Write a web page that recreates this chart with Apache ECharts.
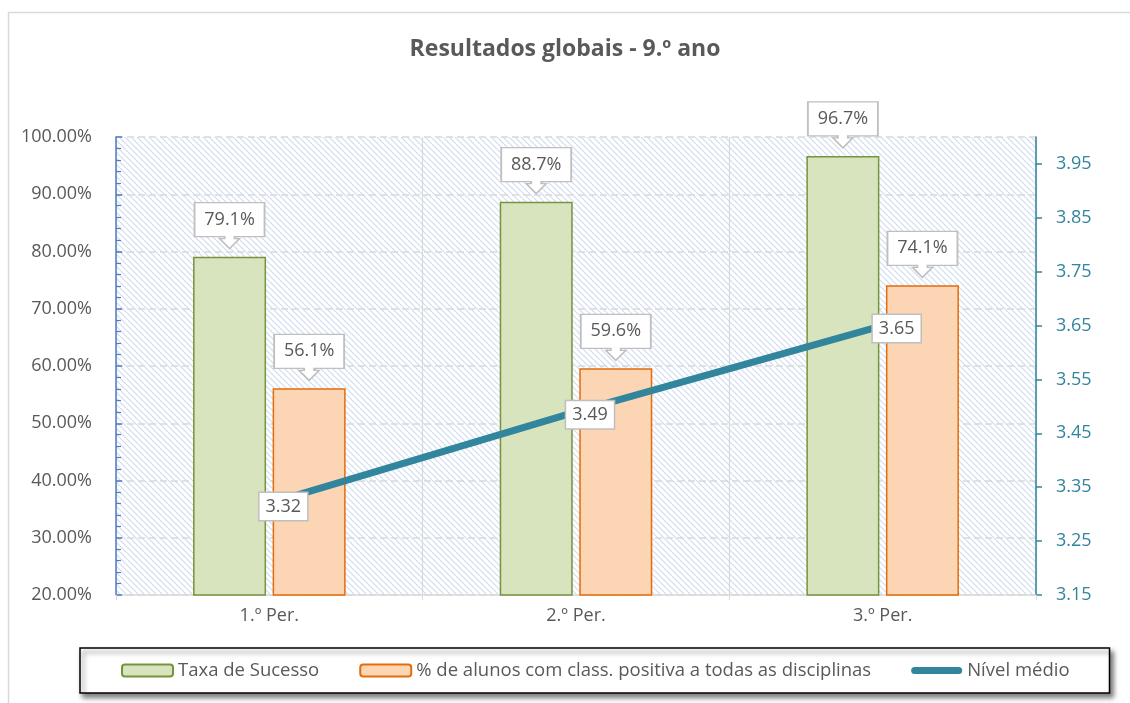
<!DOCTYPE html>
<html>
<head>
<meta charset="utf-8">
<script src="https://cdn.jsdelivr.net/npm/echarts@6/dist/echarts.min.js"></script>
<style>
  html, body { margin: 0; padding: 0; background: #fff; }
  #chart { width: 1130px; height: 703px; }
</style>
</head>
<body>
<div id="chart"></div>
<script>
// data
const periods = ['1.º Per.', '2.º Per.', '3.º Per.'];
const taxaSucesso = [79.1, 88.7, 96.7];
const positivaTodas = [56.1, 59.6, 74.1];
const nivelMedio = [3.32, 3.49, 3.65];

const names = ['Taxa de Sucesso', '% de alunos com class. positiva a todas as disciplinas', 'Nível médio'];

// hatched plot background
function hatch() {
  const c = document.createElement('canvas');
  c.width = 6; c.height = 6;
  const ctx = c.getContext('2d');
  ctx.fillStyle = '#fff';
  ctx.fillRect(0, 0, 6, 6);
  ctx.strokeStyle = '#CFDCF1';
  ctx.lineWidth = 1.2;
  for (let a = -6; a <= 6; a += 6) {
    ctx.beginPath();
    ctx.moveTo(a, 0);
    ctx.lineTo(a + 6, 6);
    ctx.stroke();
  }
  return c;
}

const callout = 'path://M0,0 H70 V34 H40 V36 H45 L35,46 L25,36 H30 V34 H0 Z';

function barLabels(vals) {
  return {
    symbol: callout,
    symbolSize: [70, 46],
    symbolOffset: [0, -31],
    itemStyle: { color: '#fff', borderColor: '#BFBFBF', borderWidth: 1.5 },
    label: {
      show: true,
      position: 'inside',
      offset: [0, -6],
      color: '#595959',
      fontSize: 18,
      fontFamily: 'Open Sans',
      formatter: p => p.value.toFixed(1) + '%'
    },
    data: vals.map((v, i) => ({ coord: [i, v], value: v }))
  };
}

const chart = echarts.init(document.getElementById('chart'));
chart.setOption({
  backgroundColor: '#fff',
  animation: false,
  textStyle: { fontFamily: 'Open Sans' },
  title: {
    text: 'Resultados globais - 9.º ano',
    left: 'center',
    top: 33,
    textStyle: { fontSize: 23, fontWeight: 'bold', color: '#595959', fontFamily: 'Open Sans' }
  },
  graphic: [{
    type: 'rect',
    shape: { x: 8.5, y: 12.5, width: 1140, height: 720 },
    style: { fill: 'none', stroke: '#D9D9D9', lineWidth: 1.5 },
    silent: true
  }],
  grid: {
    left: 116, right: 94, top: 137, bottom: 108,
    show: true,
    borderWidth: 0,
    backgroundColor: { image: hatch(), repeat: 'repeat' }
  },
  legend: {
    left: 80,
    top: 648,
    padding: [13, 40, 13, 41],
    itemGap: 40,
    itemWidth: 51,
    itemHeight: 12,
    backgroundColor: '#fff',
    borderColor: '#000',
    borderWidth: 1.5,
    shadowColor: 'rgba(0,0,0,0.5)',
    shadowBlur: 5,
    shadowOffsetX: 3,
    shadowOffsetY: 4,
    textStyle: { fontSize: 18.5, color: '#595959', fontFamily: 'Open Sans' },
    data: [
      { name: names[0] },
      { name: names[1] },
      { name: names[2], icon: 'path://M3.5,0 H47.5 A3.5,3.5 0 0 1 47.5,7 H3.5 A3.5,3.5 0 0 1 3.5,0 Z' }
    ]
  },
  xAxis: {
    type: 'category',
    data: periods,
    axisLine: { lineStyle: { color: '#D9D9D9', width: 1.5 } },
    axisTick: { show: true, length: 5, lineStyle: { color: '#D9D9D9' } },
    axisLabel: { color: '#595959', fontSize: 18, margin: 12 },
    splitLine: { show: true, lineStyle: { color: '#D9D9D9', width: 1.2 } }
  },
  yAxis: [{
    type: 'value',
    min: 20,
    max: 100,
    interval: 10,
    axisLine: { show: true, lineStyle: { color: '#4F7CC4', width: 1.5 } },
    axisTick: { show: true, inside: true, length: 6, lineStyle: { color: '#4F7CC4', width: 1.5 } },
    minorTick: { show: true, splitNumber: 5, length: 5, lineStyle: { color: '#4F7CC4', width: 1.2 } },
    axisLabel: { color: '#595959', fontSize: 18, margin: 24, formatter: v => v.toFixed(2) + '%' },
    splitLine: { show: true, lineStyle: { color: '#D9D9D9', type: [7, 4], width: 1.5 } }
  }, {
    type: 'value',
    min: 3.15,
    max: 4.0,
    interval: 0.1,
    position: 'right',
    axisLine: { show: true, lineStyle: { color: '#31859C', width: 1.5 } },
    axisTick: { show: true, length: 6, lineStyle: { color: '#31859C', width: 1.5 } },
    axisLabel: { color: '#31859C', fontSize: 18, margin: 20, showMaxLabel: false, formatter: v => v.toFixed(2) },
    splitLine: { show: false }
  }],
  series: [{
    name: names[0],
    type: 'bar',
    data: taxaSucesso,
    barWidth: 73,
    barGap: '9%',
    itemStyle: { color: '#D7E4BD', borderColor: '#77933C', borderWidth: 1.5 },
    markPoint: barLabels(taxaSucesso)
  }, {
    name: names[1],
    type: 'bar',
    data: positivaTodas,
    barWidth: 73,
    itemStyle: { color: '#FCD5B5', borderColor: '#E46C0A', borderWidth: 1.5 },
    markPoint: barLabels(positivaTodas)
  }, {
    name: names[2],
    type: 'line',
    yAxisIndex: 1,
    data: nivelMedio,
    symbol: 'circle',
    symbolSize: 1,
    itemStyle: { color: '#31859C' },
    lineStyle: { color: '#31859C', width: 7 },
    z: 5,
    label: {
      show: true,
      position: 'inside',
      offset: [14, 3],
      color: '#595959',
      fontSize: 18,
      backgroundColor: '#fff',
      borderColor: '#BFBFBF',
      borderWidth: 1.5,
      padding: [5, 6, 4, 6],
      formatter: p => p.value.toFixed(2)
    }
  }]
});
</script>
</body>
</html>
